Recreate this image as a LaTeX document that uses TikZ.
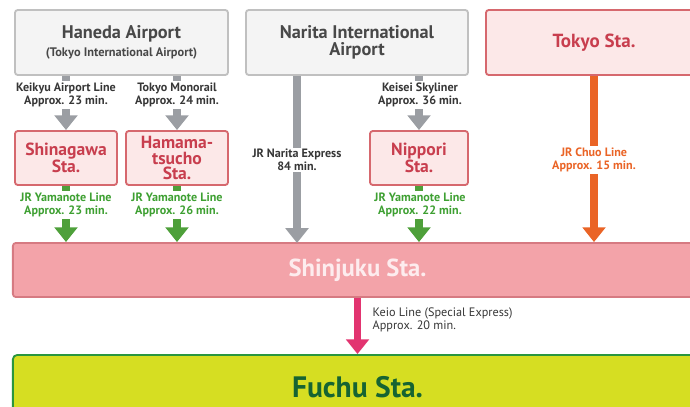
\documentclass[tikz,border=0pt]{standalone}
\usepackage{fontspec}
\setmainfont{PT Sans}
\usetikzlibrary{arrows.meta}
\definecolor{airfill}{RGB}{244,244,244}
\definecolor{airline}{RGB}{192,192,192}
\definecolor{airtext}{RGB}{72,72,72}
\definecolor{stafill}{RGB}{252,232,232}
\definecolor{staline}{RGB}{214,104,110}
\definecolor{statext}{RGB}{200,62,78}
\definecolor{shjfill}{RGB}{243,163,169}
\definecolor{shjline}{RGB}{214,122,130}
\definecolor{shjtext}{RGB}{253,236,238}
\definecolor{fchfill}{RGB}{214,222,34}
\definecolor{fchline}{RGB}{42,150,62}
\definecolor{fchtext}{RGB}{22,100,50}
\definecolor{greyline}{RGB}{155,158,163}
\definecolor{yamanote}{RGB}{78,160,58}
\definecolor{yamtext}{RGB}{62,160,50}
\definecolor{chuo}{RGB}{234,100,38}
\definecolor{keio}{RGB}{226,52,112}
\definecolor{labeltext}{RGB}{55,55,55}
\begin{document}
\begin{tikzpicture}[x=0.025cm, y=-0.025cm, line join=round,
    airport/.style={draw=airline, line width=1.3pt, fill=airfill, rounded corners=2pt,
      text=airtext, font=\bfseries\fontsize{13}{12}\selectfont, align=center, inner sep=0pt},
    station/.style={draw=staline, line width=1.3pt, fill=stafill, rounded corners=2pt,
      text=statext, font=\bfseries\fontsize{12.5}{11}\selectfont, align=center, inner sep=0pt},
    route/.style={line width=5.2pt, -{Triangle[width=16pt, length=10.5pt]}},
    lbl/.style={fill=white, inner sep=1pt, align=center, font=\bfseries\fontsize{8.6}{9.4}\selectfont}]
  \useasboundingbox (0,0) rectangle (690,407);
  \clip (0,0) rectangle (690,407);
  \fill[white] (0,0) rectangle (690,407);
  % top row
  \node[airport, minimum width=5.325cm, minimum height=1.625cm] (haneda) at (121.5,42.5)
    {Haneda Airport\\[1pt]{\fontsize{8.8}{9}\selectfont(Tokyo International Airport)}};
  \node[airport, minimum width=5.55cm, minimum height=1.625cm] (narita) at (357,42.5)
    {Narita International\\Airport};
  \node[station, minimum width=5.4cm, minimum height=1.625cm, font=\bfseries\fontsize{13.5}{13}\selectfont] (tokyo) at (594,42.5) {Tokyo Sta.};
  % transfer stations
  \node[station, minimum width=2.55cm, minimum height=1.35cm] (shinagawa) at (66,158) {Shinagawa\\Sta.};
  \node[station, minimum width=2.55cm, minimum height=1.35cm] (hamamatsucho) at (177,158) {Hamama-\\tsucho\\Sta.};
  \node[station, minimum width=2.45cm, minimum height=1.35cm] (nippori) at (419,158) {Nippori\\Sta.};
  % terminals
  \node[draw=shjline, line width=1.3pt, fill=shjfill, rounded corners=2pt, text=shjtext,
    font=\bfseries\fontsize{17.5}{17}\selectfont, minimum width=17.225cm, minimum height=1.35cm] (shinjuku) at (357.5,270) {Shinjuku Sta.};
  \node[draw=fchline, line width=1.3pt, fill=fchfill, rounded corners=3pt, text=fchtext,
    font=\bfseries\fontsize{21}{21}\selectfont, minimum width=17.225cm, minimum height=1.6cm] (fuchu) at (357.5,387) {Fuchu Sta.};
  \coordinate (nex) at (297,243);
  % connectors
  \draw[route, greyline] (shinagawa|-haneda.south) -- (shinagawa.north);
  \draw[route, greyline] (hamamatsucho|-haneda.south) -- (hamamatsucho.north);
  \draw[route, greyline] (nippori|-narita.south) -- (nippori.north);
  \draw[route, greyline] (nex|-narita.south) -- (nex);
  \draw[route, yamanote] (shinagawa.south) -- (shinagawa|-shinjuku.north);
  \draw[route, yamanote] (hamamatsucho.south) -- (hamamatsucho|-shinjuku.north);
  \draw[route, yamanote] (nippori.south) -- (nippori|-shinjuku.north);
  \draw[route, chuo] (tokyo.south) -- (tokyo|-shinjuku.north);
  \draw[route, keio] (shinjuku.south) -- (fuchu.north);
  % labels
  \node[lbl, text=labeltext] (l1) at (66,95) {Keikyu Airport Line\\Approx. 23 min.};
  \node[lbl, text=labeltext] (l2) at (177,95) {Tokyo Monorail\\Approx. 24 min.};
  \node[lbl, text=labeltext] (l3) at (420,95) {Keisei Skyliner\\Approx. 36 min.};
  \node[lbl, text=labeltext] (l4) at (297,160) {JR Narita Express\\84 min.};
  \node[lbl, text=chuo] (l5) at (594,160) {JR Chuo Line\\Approx. 15 min.};
  \node[lbl, text=yamtext] (l6) at (66,205) {JR Yamanote Line\\Approx. 23 min.};
  \node[lbl, text=yamtext] (l7) at (177,205) {JR Yamanote Line\\Approx. 26 min.};
  \node[lbl, text=yamtext] (l8) at (420,205) {JR Yamanote Line\\Approx. 22 min.};
  \node[lbl, fill=none, text=labeltext, align=left, anchor=west,
    font=\fontsize{8.7}{9.6}\selectfont] (l9) at (371,320) {Keio Line (Special Express)\\Approx. 20 min.};
\end{tikzpicture}
\end{document}
